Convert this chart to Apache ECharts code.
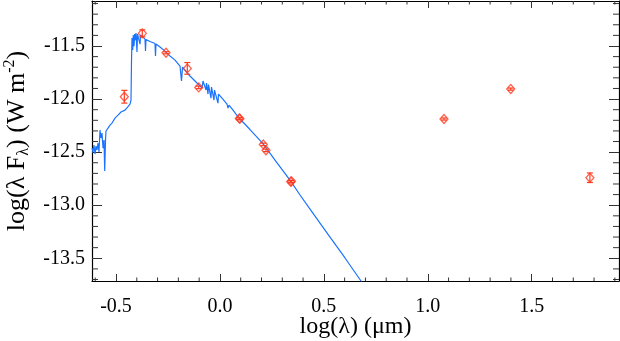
<!DOCTYPE html>
<html>
<head>
<meta charset="utf-8">
<script src="https://cdn.jsdelivr.net/npm/echarts@6/dist/echarts.min.js"></script>
<style>
html, body { margin: 0; padding: 0; background: #fff; }
#chart { width: 620px; height: 341px; }
</style>
</head>
<body>
<div id="chart"></div>
<script>
// model spectrum, log(lambda) in um and log(lambda F_lambda) in W m^-2
const modelLogLam = [
  -0.615, -0.6107, -0.6058, -0.601, -0.5962, -0.5914, -0.5866, -0.5818, -0.577, -0.5722,
  -0.5674, -0.5625, -0.5577, -0.5544, -0.5505, -0.5481, -0.5385, -0.5289, -0.5192, -0.5048,
  -0.4904, -0.4759, -0.4567, -0.4423, -0.4326, -0.4278, -0.4254, -0.423, -0.4197, -0.4168,
  -0.4134, -0.41, -0.4062, -0.4038, -0.399, -0.3966, -0.3893, -0.3845, -0.3821, -0.3701,
  -0.3605, -0.3581, -0.3557, -0.3364, -0.3124, -0.31, -0.3076, -0.2883, -0.2643, -0.2402,
  -0.2161, -0.1921, -0.1849, -0.18, -0.168, -0.144, -0.1199, -0.0959, -0.0862, -0.0814,
  -0.0766, -0.0718, -0.067, -0.0646, -0.0574, -0.055, -0.0478, -0.043, -0.0405, -0.0285,
  -0.0261, -0.0093, -0.0069, 0.01, 0.034, 0.0388, 0.0437, 0.0629, 0.0773, 0.0966,
  0.1447, 0.2072, 0.265, 0.3372, 0.3853, 0.4334, 0.5296, 0.6018, 0.6787, 0.746
];
const modelLogFlux = [
  -12.462, -12.499, -12.433, -12.518, -12.443, -12.48, -12.415, -12.499, -12.292, -12.367,
  -12.32, -12.462, -12.386, -12.678, -12.386, -12.301, -12.273, -12.245, -12.226, -12.179,
  -12.151, -12.122, -12.104, -12.071, -12.047, -12.009, -11.633, -11.425, -11.538, -11.397,
  -11.501, -11.388, -11.444, -11.378, -11.557, -11.388, -11.388, -11.482, -11.397, -11.416,
  -11.435, -11.548, -11.44, -11.458, -11.477, -11.595, -11.482, -11.51, -11.548, -11.595,
  -11.633, -11.689, -11.83, -11.699, -11.727, -11.783, -11.83, -11.878, -11.896, -11.83,
  -11.821, -11.84, -11.915, -11.849, -11.953, -11.863, -11.878, -11.991, -11.887, -12.009,
  -11.915, -12.038, -11.953, -11.991, -12.047, -12.085, -12.057, -12.104, -12.141, -12.188,
  -12.287, -12.419, -12.575, -12.763, -12.904, -13.036, -13.3, -13.497, -13.714, -13.902
];

// photometry with errors
const obsLogLam = [-0.46, -0.3735, -0.2594, -0.157, -0.102, 0.0932, 0.096, 0.2087, 0.2217, 0.3405, 0.344, 1.078, 1.399, 1.78];
const obsLogFlux = [-11.978, -11.381, -11.564, -11.711, -11.89, -12.182, -12.186, -12.427, -12.483, -12.779, -12.775, -12.188, -11.906, -12.741];
const obsErr = [0.06, 0.033, 0.01, 0.055, 0.012, 0.01, 0.01, 0.012, 0.012, 0.01, 0.01, 0.01, 0.01, 0.045];

// ticks
const xMajor = [-0.5, 0, 0.5, 1, 1.5];
const xMinor = [-0.6, -0.4, -0.3, -0.2, -0.1, 0.1, 0.2, 0.3, 0.4, 0.6, 0.7, 0.8, 0.9, 1.1, 1.2, 1.3, 1.4, 1.6, 1.7, 1.8, 1.9];
const yMajor = [-13.5, -13, -12.5, -12, -11.5];
const yMinor = [-13.7, -13.6, -13.4, -13.3, -13.2, -13.1, -12.9, -12.8, -12.7, -12.6, -12.4, -12.3, -12.2, -12.1, -11.9, -11.8, -11.7, -11.6, -11.4, -11.3, -11.2, -11.1];

const X_MIN = -0.6155, X_MAX = 1.92;
const Y_MIN = -13.714, Y_MAX = -11.076;
const FONT = 'Liberation Serif';
const RED = '#ff3b1f';
const BLUE = '#1a73ff';

const chart = echarts.init(document.getElementById('chart'));

// axis frame, label only on bottom/left
function frame(pos, isX, withLabel) {
  const major = isX ? xMajor : yMajor;
  return {
    type: 'value',
    position: pos,
    min: isX ? X_MIN : Y_MIN,
    max: isX ? X_MAX : Y_MAX,
    axisLine: { show: true, onZero: false, lineStyle: { color: '#000', width: 1.2 } },
    axisTick: { show: true, inside: true, length: isX ? 7 : 10, customValues: major, lineStyle: { color: '#333', width: 1 } },
    axisLabel: {
      show: withLabel,
      customValues: major,
      formatter: v => v.toFixed(1),
      fontFamily: FONT,
      fontSize: 20,
      color: '#000',
      margin: isX ? 16 : 7,
      padding: isX ? 0 : [5, 0, 0, 0]
    },
    splitLine: { show: false }
  };
}

const xBottom = frame('bottom', true, true);
xBottom.name = 'log(λ) (μm)';
xBottom.nameLocation = 'middle';
xBottom.nameGap = 34;
xBottom.nameMoveOverlap = false;
xBottom.nameTextStyle = { fontFamily: FONT, fontSize: 24, color: '#000' };

const yLeft = frame('left', false, true);
yLeft.name = '{n|log(λ F}{s|λ}{n|) (W m}{p|-2}{n|)}';
yLeft.nameLocation = 'middle';
yLeft.nameGap = 60;
yLeft.nameTextStyle = {
  fontFamily: FONT, color: '#000',
  rich: {
    n: { fontFamily: FONT, fontSize: 26, color: '#000', lineHeight: 30 },
    s: { fontFamily: FONT, fontSize: 16, color: '#000', lineHeight: 15, verticalAlign: 'bottom' },
    p: { fontFamily: FONT, fontSize: 16, color: '#000', lineHeight: 15, verticalAlign: 'top' }
  }
};

const option = {
  animation: false,
  backgroundColor: '#fff',
  textStyle: { fontFamily: FONT },
  grid: { left: 92, top: 1, width: 527, height: 280, containLabel: false, outerBoundsMode: 'none' },
  xAxis: [xBottom, frame('top', true, false)],
  yAxis: [yLeft, frame('right', false, false)],
  series: [
    {
      type: 'line',
      data: modelLogLam.map((x, i) => [x, modelLogFlux[i]]),
      showSymbol: false,
      clip: true,
      lineStyle: { color: BLUE, width: 1.2 },
      z: 2
    },
    {
      // minor ticks on x (bottom and top)
      type: 'custom',
      silent: true,
      data: xMinor.map(v => [v, Y_MIN]),
      renderItem: (params, api) => {
        const b = api.coord([api.value(0), Y_MIN]);
        const t = api.coord([api.value(0), Y_MAX]);
        const st = { stroke: '#333', lineWidth: 1 };
        return {
          type: 'group',
          children: [
            { type: 'line', shape: { x1: b[0], y1: b[1], x2: b[0], y2: b[1] - 3.5 }, style: st },
            { type: 'line', shape: { x1: t[0], y1: t[1], x2: t[0], y2: t[1] + 3.5 }, style: st }
          ]
        };
      },
      z: 1
    },
    {
      // minor ticks on y (left and right)
      type: 'custom',
      silent: true,
      data: yMinor.map(v => [X_MIN, v]),
      renderItem: (params, api) => {
        const l = api.coord([X_MIN, api.value(1)]);
        const r = api.coord([X_MAX, api.value(1)]);
        const st = { stroke: '#333', lineWidth: 1 };
        return {
          type: 'group',
          children: [
            { type: 'line', shape: { x1: l[0], y1: l[1], x2: l[0] + 6, y2: l[1] }, style: st },
            { type: 'line', shape: { x1: r[0], y1: r[1], x2: r[0] - 6, y2: r[1] }, style: st }
          ]
        };
      },
      z: 1
    },
    {
      // error bars
      type: 'custom',
      silent: true,
      data: obsLogLam.map((x, i) => [x, obsLogFlux[i], obsErr[i]]),
      encode: { x: 0, y: 1 },
      renderItem: (params, api) => {
        const x = api.value(0), y = api.value(1), e = api.value(2);
        const hi = api.coord([x, y + e]);
        const lo = api.coord([x, y - e]);
        const st = { stroke: RED, lineWidth: 1.2 };
        return {
          type: 'group',
          children: [
            { type: 'line', shape: { x1: hi[0], y1: hi[1], x2: lo[0], y2: lo[1] }, style: st },
            { type: 'line', shape: { x1: hi[0] - 3, y1: hi[1], x2: hi[0] + 3, y2: hi[1] }, style: st },
            { type: 'line', shape: { x1: lo[0] - 3, y1: lo[1], x2: lo[0] + 3, y2: lo[1] }, style: st }
          ]
        };
      },
      z: 3
    },
    {
      type: 'scatter',
      data: obsLogLam.map((x, i) => [x, obsLogFlux[i]]),
      symbol: 'diamond',
      symbolSize: [8, 9],
      itemStyle: { color: 'rgba(255,255,255,0)', borderColor: RED, borderWidth: 1.3 },
      z: 4
    }
  ]
};

option && chart.setOption(option);
</script>
</body>
</html>
